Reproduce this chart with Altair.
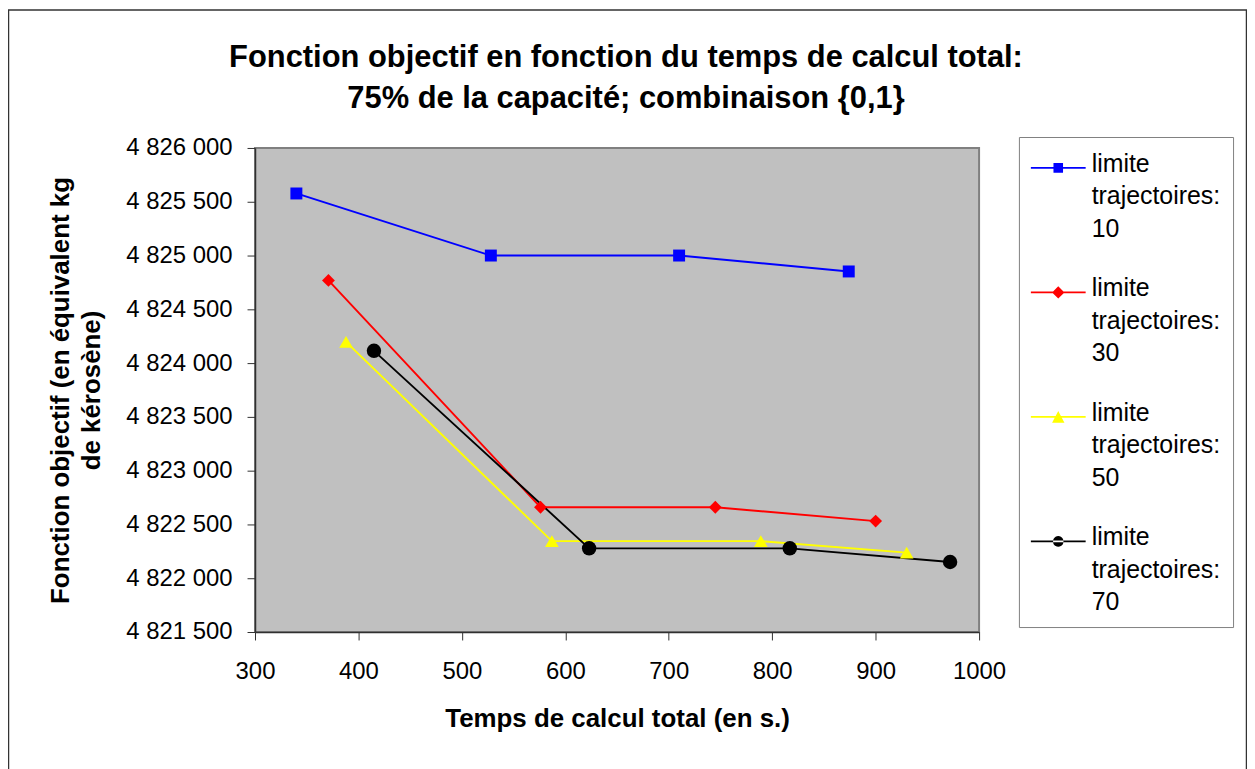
import altair as alt
import pandas as pd

series_names = ["limite trajectoires: 10", "limite trajectoires: 30",
                "limite trajectoires: 50", "limite trajectoires: 70"]
x_10 = [340, 528, 710, 874]
y_10 = [4825577, 4825000, 4825000, 4824852]
x_30 = [371, 576, 745, 900]
y_30 = [4824769, 4822660, 4822660, 4822531]
x_50 = [388, 587, 789, 930]
y_50 = [4824197, 4822345, 4822345, 4822238]
x_70 = [415, 623, 817, 972]
y_70 = [4824114, 4822278, 4822278, 4822151]

colors = ["#0000FF", "#FF0000", "#FFFF00", "#000000"]
shapes = ["square", "diamond", "triangle-up", "circle"]
marker_sizes = [144, 210, 190, 150]
x_ticks = [300, 400, 500, 600, 700, 800, 900, 1000]
y_ticks = [4821500, 4822000, 4822500, 4823000, 4823500, 4824000, 4824500, 4825000, 4825500, 4826000]

rows = []
for name, xs, ys in zip(series_names, [x_10, x_30, x_50, x_70], [y_10, y_30, y_50, y_70]):
    for xv, yv in zip(xs, ys):
        rows.append({"serie": name, "temps": xv, "objectif": yv})
df = pd.DataFrame(rows)

# legend symbols: line + marker, in symbol units (1 unit = 15 px, symbol box 30 px)
U = 15.0
lx0, lx1 = -1.0, 40 / U          # line from -15 px to +40 px around symbol centre
mx = 12.5 / U                    # marker centre x
cy = 4 / U                       # marker / line y
h = 0.8 / U
line_part = f"M{lx0:.3f},{cy-h:.3f}H{lx1:.3f}V{cy+h:.3f}H{lx0:.3f}Z"
sq = 4.8 / U
dm = 6.2 / U
tw, th = 6.2 / U, 5.8 / U
cr = 5.2 / U
legend_paths = [
    line_part + f"M{mx-sq:.3f},{cy-sq:.3f}H{mx+sq:.3f}V{cy+sq:.3f}H{mx-sq:.3f}Z",
    line_part + f"M{mx-dm:.3f},{cy:.3f}L{mx:.3f},{cy-dm:.3f}L{mx+dm:.3f},{cy:.3f}L{mx:.3f},{cy+dm:.3f}Z",
    line_part + f"M{mx-tw:.3f},{cy+th:.3f}L{mx:.3f},{cy-th:.3f}L{mx+tw:.3f},{cy+th:.3f}Z",
    line_part + f"M{mx-cr:.3f},{cy:.3f}A{cr:.3f},{cr:.3f} 0 1,0 {mx+cr:.3f},{cy:.3f}"
                f"A{cr:.3f},{cr:.3f} 0 1,0 {mx-cr:.3f},{cy:.3f}Z",
]

W, H = 727, 486

x_enc = alt.X("temps:Q", scale=alt.Scale(domain=[300, 1000], nice=False, zero=False),
              axis=alt.Axis(values=x_ticks, title="Temps de calcul total (en s.)",
                            labelPadding=20, titlePadding=22, format="d", labelFlush=False))
y_enc = alt.Y("objectif:Q", scale=alt.Scale(domain=[4821500, 4826000], nice=False, zero=False),
              axis=alt.Axis(values=y_ticks,
                            title=["Fonction objectif (en équivalent kg", "de kérosène)"],
                            titleLineHeight=31, labelFlush=False,
                            labelPadding=15, titlePadding=21,
                            labelExpr="replace(replace(format(datum.value, ','), ',', ' '), ',', ' ')"))

color_scale = alt.Scale(domain=series_names, range=colors)

base = alt.Chart(df)

lines = base.mark_line(strokeWidth=1.9).encode(
    x=x_enc, y=y_enc,
    color=alt.Color("serie:N", scale=color_scale, legend=None),
    detail="serie:N",
)

points = base.mark_point(filled=True, opacity=1).encode(
    x="temps:Q", y="objectif:Q",
    color=alt.Color("serie:N", scale=color_scale, legend=None),
    shape=alt.Shape("serie:N", scale=alt.Scale(domain=series_names, range=shapes), legend=None),
    size=alt.Size("serie:O", scale=alt.Scale(domain=series_names, range=marker_sizes), legend=None),
)

legend_params = dict(title=None, orient="none", legendX=767, legendY=-11,
                     labelExpr="split(datum.label, ' ')",
                     symbolOpacity=1, symbolSize=900, symbolStrokeWidth=0,
                     labelOffset=31, rowPadding=32, padding=12,
                     labelFontSize=25, labelFont="Liberation Sans",
                     labelColor="black", labelLimit=400,
                     strokeColor="#808080", fillColor="white")

legend_layer = base.mark_point(filled=True, opacity=0).encode(
    x="temps:Q", y="objectif:Q",
    color=alt.Color("serie:N", scale=color_scale, legend=alt.Legend(**legend_params)),
    shape=alt.Shape("serie:N", scale=alt.Scale(domain=series_names, range=legend_paths),
                    legend=alt.Legend(**legend_params)),
)

border = alt.Chart(alt.Data(values=[{}])).mark_rect(
    fill=None, stroke="#333333", strokeWidth=1.5
).encode(
    x=alt.value(-247.5), x2=alt.value(995.5),
    y=alt.value(-138.5), y2=alt.value(640),
)

chart = alt.layer(border, lines, points, legend_layer).resolve_scale(
    color="independent", shape="independent", size="independent"
).properties(
    width=W, height=H,
    autosize="none",
    padding={"left": 248, "top": 139, "right": 269, "bottom": 136},
    title=alt.TitleParams(
        text=["Fonction objectif en fonction du temps de calcul total:",
              "75% de la capacité; combinaison {0,1}"],
        fontSize=31, font="Liberation Sans", fontWeight="bold", color="black",
        lineHeight=41, anchor="middle", offset=-106, dx=9,
    ),
    background="white",
).configure(
    style={"guide-label": {"lineHeight": 32.5}}
).configure_view(
    fill="#C0C0C0", stroke="#808080", strokeWidth=2
).configure_axis(
    grid=False, domainColor="#303030", domainWidth=1.5,
    tickColor="#303030", tickSize=8, tickWidth=1,
    labelFont="Liberation Sans", labelFontSize=24, labelColor="black",
    titleFont="Liberation Sans", titleFontSize=26, titleFontWeight="bold", titleColor="black",
)

chart.save("out.html", embed_options={"renderer": "svg", "actions": False})
